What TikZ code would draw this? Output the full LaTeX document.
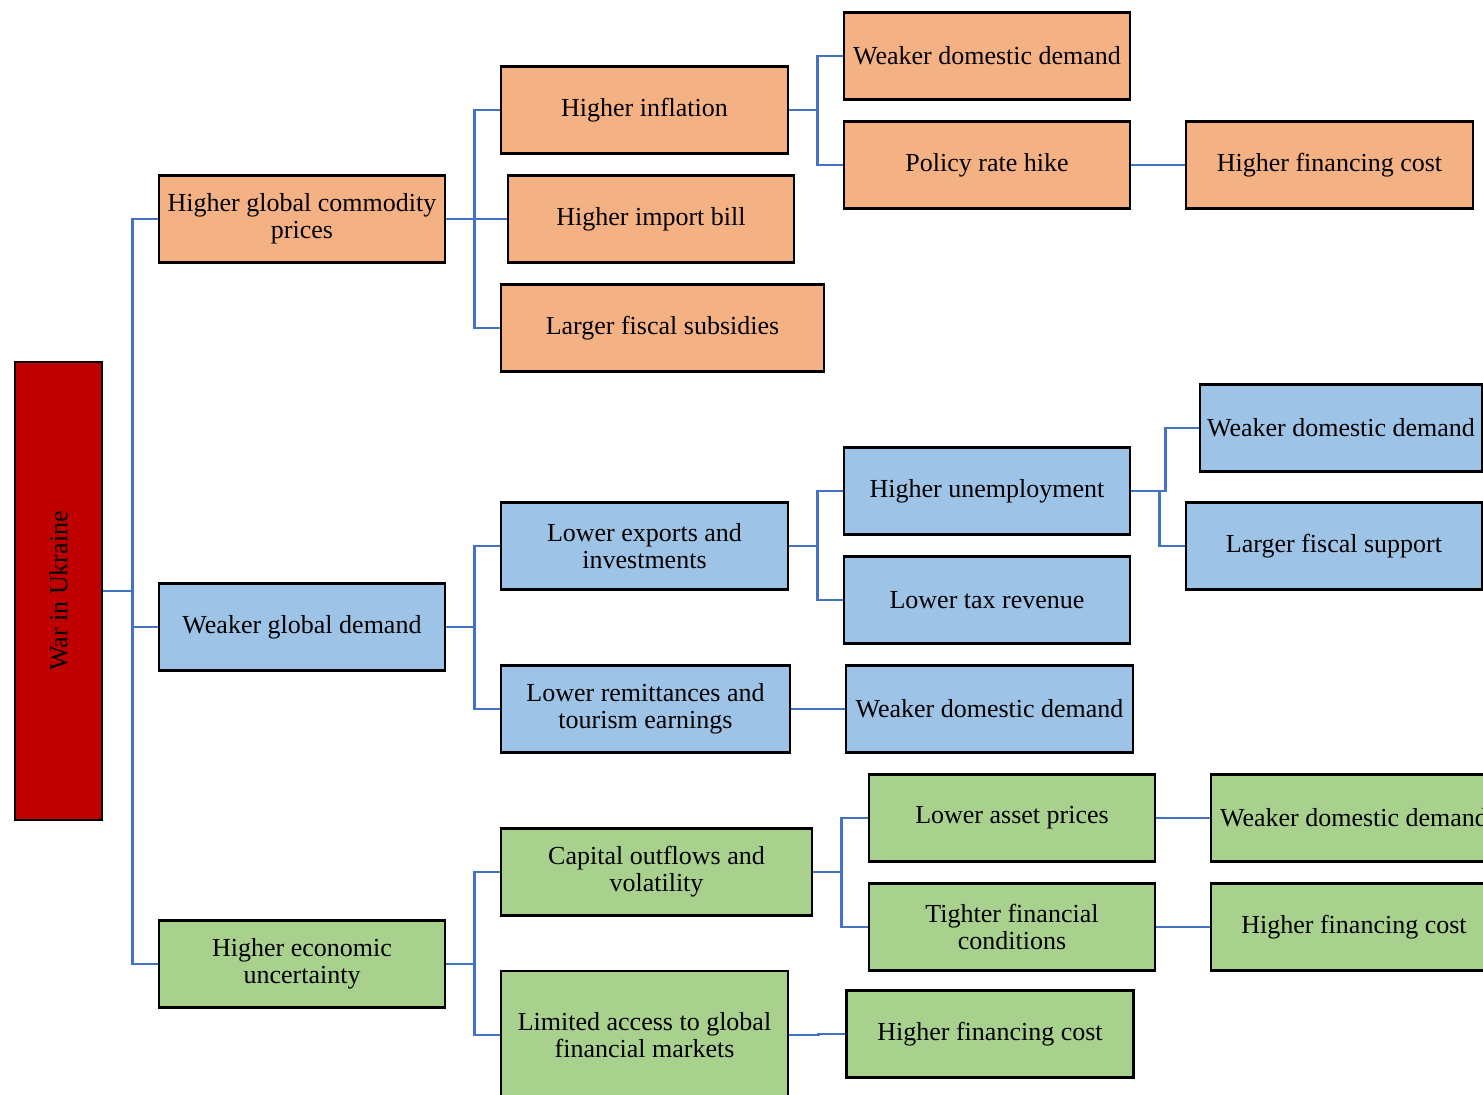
\documentclass[tikz,border=0pt]{standalone}
\usepackage{fontspec}
\setmainfont{Liberation Serif}
\usepackage{tikz}

\definecolor{warred}{HTML}{C00000}
\definecolor{priceorange}{HTML}{F4B183}
\definecolor{demandblue}{HTML}{9DC3E6}
\definecolor{riskgreen}{HTML}{A9D18E}
\definecolor{linkblue}{HTML}{4472C4}

\begin{document}
\begin{tikzpicture}[
    x=0.5pt, y=-0.5pt,        % one unit = one pixel of the layout
    box/.style={draw=black, line width=1.3pt, minimum height=43.5pt,
        minimum width=143pt, inner sep=1pt, align=center,
        font=\fontsize{13}{13.6}\selectfont},
    orange/.style={box, fill=priceorange},
    blue/.style={box, fill=demandblue},
    green/.style={box, fill=riskgreen},
    link/.style={draw=linkblue, line width=1.2pt}]
    \clip (0,0) rectangle (1483,1095);

    % Root
    \node[box, fill=warred, rotate=90, minimum width=229pt] (war) at (58.5,591) {War in Ukraine};

    % First level
    \node[orange] (com) at (302,219) {Higher global commodity\\prices};
    \node[blue] (dem) at (302,627) {Weaker global demand};
    \node[green] (unc) at (302,964) {Higher economic\\uncertainty};

    % Commodity prices branch
    \node[orange, minimum width=143.5pt] (infl) at (644.5,110) {Higher inflation};
    \node[orange] (imp) at (651,219) {Higher import bill};
    \node[orange, minimum width=161.5pt] (sub) at (662.5,328) {Larger fiscal subsidies};
    \node[orange] (wdd1) at (987,56) {Weaker domestic demand};
    \node[orange] (rate) at (987,165) {Policy rate hike};
    \node[orange, minimum width=143.5pt] (cost1) at (1329.5,165) {Higher financing cost};

    % Global demand branch
    \node[blue, minimum width=143.5pt] (exp) at (644.5,546) {Lower exports and\\investments};
    \node[blue, minimum width=144.5pt] (rem) at (645.5,709) {Lower remittances and\\tourism earnings};
    \node[blue] (unemp) at (987,491) {Higher unemployment};
    \node[blue] (tax) at (987,600) {Lower tax revenue};
    \node[blue, minimum width=143.5pt] (wdd2) at (989.5,709) {Weaker domestic demand};
    \node[blue, minimum width=141pt] (wdd3) at (1341,428) {Weaker domestic demand};
    \node[blue, minimum width=148pt] (fis) at (1334,546) {Larger fiscal support};

    % Uncertainty branch
    \node[green, minimum width=155.5pt] (cap) at (656.5,872) {Capital outflows and\\volatility};
    \node[green, minimum width=143.5pt, minimum height=64pt] (acc) at (644.5,1035) {Limited access to global\\financial markets};
    \node[green] (asset) at (1012,818) {Lower asset prices};
    \node[green] (tight) at (1012,927) {Tighter financial\\conditions};
    \node[green, minimum width=143.5pt] (cost2) at (990,1034) {Higher financing cost};
    \node[green] (wdd4) at (1354,818) {Weaker domestic demand};
    \node[green] (cost3) at (1354,927) {Higher financing cost};

    % Connectors
    \draw[link] (war.south) -- ++(29,0) |- (com.west);
    \draw[link] (war.south) -- ++(29,0) |- (dem.west);
    \draw[link] (war.south) -- ++(29,0) |- (unc.west);

    \draw[link] (com.east) -- ++(28,0) |- (infl.west);
    \draw[link] (com.east) -- (imp.west);
    \draw[link] (com.east) -- ++(28,0) |- (sub.west);
    \draw[link] (infl.east) -- ++(28,0) |- (wdd1.west);
    \draw[link] (infl.east) -- ++(28,0) |- (rate.west);
    \draw[link] (rate.east) -- (cost1.west);

    \draw[link] (dem.east) -- ++(28,0) |- (exp.west);
    \draw[link] (dem.east) -- ++(28,0) |- (rem.west);
    \draw[link] (exp.east) -- ++(28,0) |- (unemp.west);
    \draw[link] (exp.east) -- ++(28,0) |- (tax.west);
    \draw[link] (rem.east) -- (wdd2.west);
    \draw[link] (unemp.east) -- ++(34,0) |- (wdd3.west);
    \draw[link] (unemp.east) -- ++(28,0) |- (fis.west);

    \draw[link] (unc.east) -- ++(28,0) |- (cap.west);
    \draw[link] (unc.east) -- ++(28,0) |- (acc.west);
    \draw[link] (cap.east) -- ++(28,0) |- (asset.west);
    \draw[link] (cap.east) -- ++(28,0) |- (tight.west);
    \draw[link] (acc.east) -- ++(29,0) |- (cost2.west);
    \draw[link] (asset.east) -- (wdd4.west);
    \draw[link] (tight.east) -- (cost3.west);
\end{tikzpicture}
\end{document}
